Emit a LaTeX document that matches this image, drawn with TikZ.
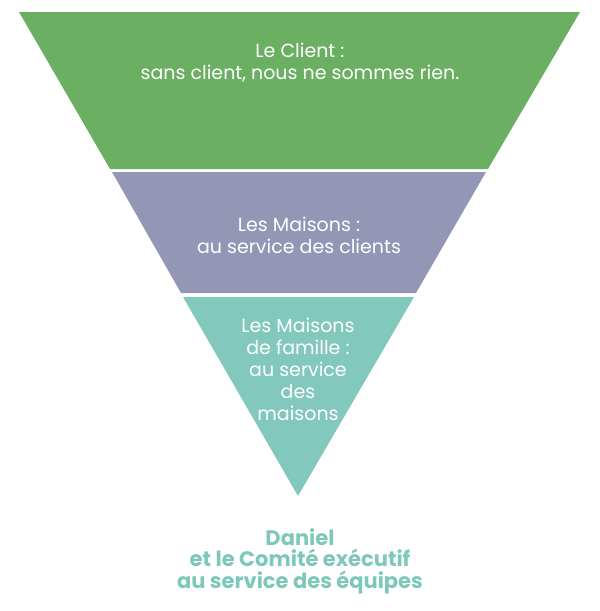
\documentclass[tikz,border=0pt]{standalone}
\usepackage{fontspec}
\setmainfont{Poppins}
\definecolor{cgreen}{RGB}{107,175,99}
\definecolor{cpurple}{RGB}{147,151,181}
\definecolor{cteal}{RGB}{131,200,188}
\definecolor{ctext}{RGB}{125,200,186}
\begin{document}
\begin{tikzpicture}[x=1pt,y=-1pt,
  band/.style={draw=none},
  lbl/.style={text=white,align=center,font=\fontsize{19}{22}\selectfont,inner sep=0pt},
  foot/.style={text=ctext,align=center,font=\fontsize{21}{21.5}\selectfont\bfseries,inner sep=0pt}]
\useasboundingbox (0,0) rectangle (600,611);
\fill[cgreen,band] (19,12) -- (580,12) -- (488,169) -- (110,169) -- cycle;
\fill[cpurple,band] (112,172) -- (486,172) -- (416,293) -- (181,293) -- cycle;
\fill[cteal,band] (183,297) -- (414,297) -- (298,496) -- cycle;
\node[lbl] (client) at (300,63) {Le Client :\\sans client, nous ne sommes rien.};
\node[lbl] (maisons) at (299,235) {Les Maisons :\\au service des clients};
\node[lbl] (famille) at (298,369) {Les Maisons\\de famille :\\au service\\des\\maisons};
\node[foot] (daniel) at (300,561) {Daniel\\et le Comité exécutif\\au service des équipes};
\end{tikzpicture}
\end{document}
